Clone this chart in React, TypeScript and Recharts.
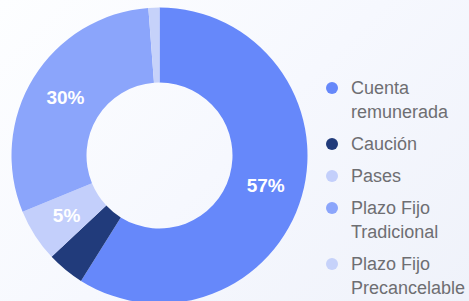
import React from "react";
import { PieChart, Pie, Cell } from "recharts";

const categories = [
  "Cuenta remunerada",
  "Caución",
  "Pases",
  "Plazo Fijo Tradicional",
  "Plazo Fijo Precancelable",
];
const legendLines = [
  ["Cuenta", "remunerada"],
  ["Caución"],
  ["Pases"],
  ["Plazo Fijo", "Tradicional"],
  ["Plazo Fijo", "Precancelable"],
];
const values = [58.9, 4.1, 5.8, 30.0, 1.2];
const sliceLabels = ["57%", "", "5%", "30%", ""];
const colors = ["#6688fa", "#213b7b", "#c3cffb", "#8ba5fb", "#c6d2fa"];

const data = categories.map((name, i) => ({ name, value: values[i] }));

const RAD = Math.PI / 180;

const renderLabel = (props: any) => {
  const { cx, cy, midAngle, innerRadius, outerRadius, index } = props;
  const text = sliceLabels[index];
  if (!text) return null;
  const r = (innerRadius + outerRadius) / 2;
  const x = cx + r * Math.cos(-midAngle * RAD);
  const y = cy + r * Math.sin(-midAngle * RAD);
  return (
    <text
      x={x}
      y={y}
      fill="#ffffff"
      textAnchor="middle"
      dominantBaseline="central"
      fontFamily="'Liberation Sans', Arial, sans-serif"
      fontWeight={700}
      fontSize={19}
    >
      {text}
    </text>
  );
};

const LegendBox = () => (
  <div
    style={{
      position: "absolute",
      left: 326,
      top: 76,
      width: 143,
      fontFamily: "'Liberation Sans', Arial, sans-serif",
      fontSize: 18,
      color: "#6e6e72",
    }}
  >
    {legendLines.map((lines, i) => (
      <div key={i} style={{ display: "flex", alignItems: "flex-start", marginBottom: 8 }}>
        <div style={{ width: 25, height: 24, display: "flex", alignItems: "center" }}>
          <div
            style={{
              width: 12,
              height: 12,
              borderRadius: "50%",
              background: colors[i],
              marginLeft: 0,
            }}
          />
        </div>
        <div style={{ lineHeight: "24px", whiteSpace: "nowrap" }}>
          {lines.map((l, j) => (
            <div key={j}>{l}</div>
          ))}
        </div>
      </div>
    ))}
  </div>
);

export default function App() {
  return (
    <div
      style={{
        position: "absolute",
        left: 0,
        top: 0,
        width: 469,
        height: 301,
        overflow: "hidden",
        background: "linear-gradient(135deg, #fdfeff 0%, #f6f8fe 50%, #eff2fa 100%)",
      }}
    >
      <PieChart width={469} height={301} margin={{ top: 0, right: 0, bottom: 0, left: 0 }}>
        <Pie
          data={data}
          dataKey="value"
          nameKey="name"
          cx={159.5}
          cy={155.5}
          innerRadius={73}
          outerRadius={148}
          startAngle={90}
          endAngle={-270}
          stroke="none"
          label={renderLabel}
          labelLine={false}
          isAnimationActive={false}
        >
          {data.map((d, i) => (
            <Cell key={d.name} fill={colors[i]} />
          ))}
        </Pie>
      </PieChart>
      <LegendBox />
    </div>
  );
}
